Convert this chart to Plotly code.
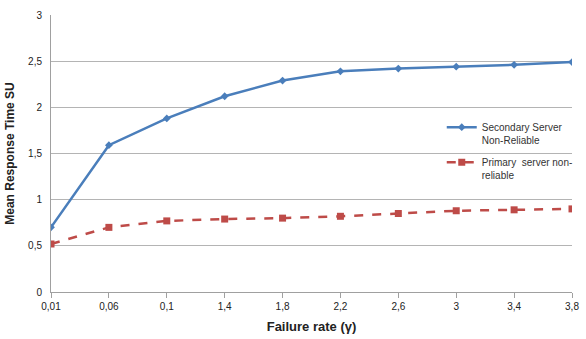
import plotly.graph_objects as go

categories = ["0,01", "0,06", "0,1", "1,4", "1,8", "2,2", "2,6", "3", "3,4", "3,8"]
secondary = [0.70, 1.59, 1.88, 2.12, 2.29, 2.39, 2.42, 2.44, 2.46, 2.49]
primary = [0.52, 0.70, 0.77, 0.79, 0.80, 0.82, 0.85, 0.88, 0.89, 0.90]
yticks = [0, 0.5, 1, 1.5, 2, 2.5, 3]
yticktext = ["0", "0,5", "1", "1,5", "2", "2,5", "3"]

x = list(range(len(categories)))
fig = go.Figure()
fig.add_trace(go.Scatter(
    x=x, y=secondary, mode="lines+markers",
    name="Secondary Server<br>Non-Reliable", legendgroup="a",
    line=dict(color="#4a7ebb", width=2.5),
    marker=dict(symbol="diamond", size=6, color="#4a7ebb"),
))
fig.add_trace(go.Scatter(
    x=x, y=primary, mode="lines+markers",
    name="Primary  server non-<br>reliable", legendgroup="b",
    line=dict(color="#be4b48", width=2.5, dash="dash"),
    marker=dict(symbol="square", size=7, color="#be4b48"),
))
fig.update_layout(
    width=586, height=339,
    margin=dict(l=51, r=8, t=15, b=47),
    plot_bgcolor="white", paper_bgcolor="white",
    font=dict(family="Liberation Sans, Arial, sans-serif", size=10, color="#222"),
    showlegend=True,
    legend=dict(x=0.75, y=0.642, xanchor="left", yanchor="top", valign="top",
                bgcolor="rgba(0,0,0,0)", font=dict(size=10, color="#333"),
                tracegroupgap=6, itemwidth=30),
    xaxis=dict(
        tickmode="array", tickvals=x, ticktext=categories,
        range=[0, 9], showgrid=False, showline=True, linecolor="#a0a0a0",
        linewidth=1, ticks="outside", ticklen=5, tickcolor="#a0a0a0",
        zeroline=False,
        title=dict(text="<b>Failure rate (γ)</b>", font=dict(size=13, color="#222"), standoff=10),
    ),
    yaxis=dict(
        tickmode="array", tickvals=yticks, ticktext=yticktext,
        range=[0, 3], showgrid=True, gridcolor="#b4b4b4", gridwidth=1,
        showline=True, linecolor="#a0a0a0", linewidth=1, zeroline=False,
        ticks="", ticklabelstandoff=6,
        title=dict(text="<b>Mean Response Time SU</b>", font=dict(size=12, color="#222"), standoff=10),
    ),
)
fig.write_html("out.html")
